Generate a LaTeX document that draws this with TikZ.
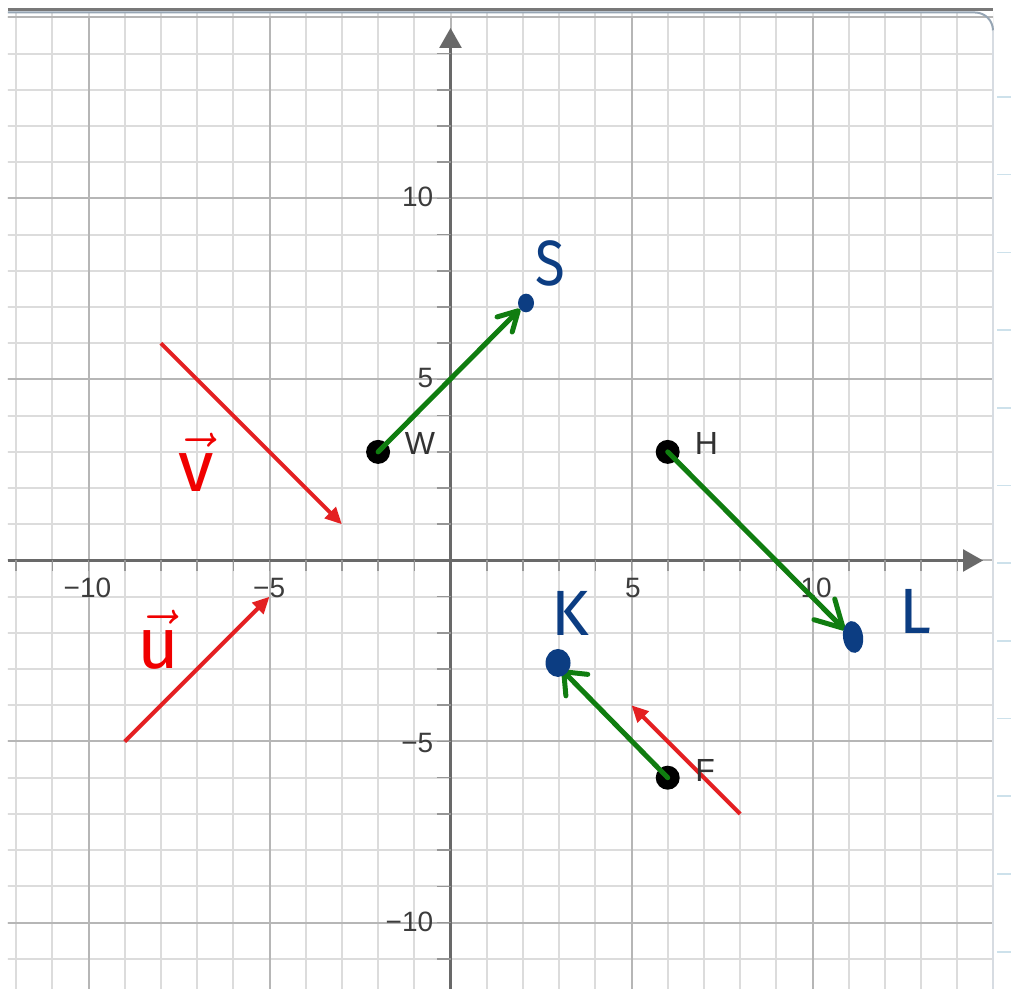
\RequirePackage{fix-cm}
\documentclass[tikz,border=0pt]{standalone}
\usepackage{fontspec}
\setmainfont{Liberation Sans}
\newfontfamily\handfont{Fira Sans}
\usetikzlibrary{arrows.meta,shapes.geometric}
\definecolor{gridminor}{RGB}{220,220,220}
\definecolor{gridmajor}{RGB}{182,182,182}
\definecolor{axisgray}{RGB}{105,105,105}
\definecolor{tickgray}{RGB}{150,150,150}
\definecolor{numgray}{RGB}{60,60,60}
\definecolor{labgray}{RGB}{50,50,50}
\definecolor{vecred}{RGB}{228,32,34}
\definecolor{inkred}{RGB}{240,0,0}
\definecolor{inkgreen}{RGB}{16,125,16}
\definecolor{inkblue}{RGB}{12,61,130}
\definecolor{topdark}{RGB}{120,120,120}
\definecolor{topblue}{RGB}{150,165,180}
\definecolor{edgegray}{RGB}{215,220,226}
\definecolor{faintblue}{RGB}{205,225,235}
\begin{document}
\begin{tikzpicture}[x=27.15pt,y=27.15pt,
  minorgrid/.style={draw=gridminor, line width=1.5pt},
  majorgrid/.style={draw=gridmajor, line width=1.5pt},
  axisline/.style={draw=axisgray, line width=1.9pt, -{Triangle[length=15pt,width=16.5pt]}},
  tickmark/.style={draw=tickgray, line width=1.2pt},
  numlab/.style={font=\fontsize{21}{24}\selectfont, text=numgray, inner sep=0pt},
  blackdot/.style={circle, fill=black, inner sep=0pt, minimum size=18pt},
  ptlab/.style={font=\fontsize{24}{28}\selectfont, text=labgray, inner sep=0pt, anchor=west},
  redvec/.style={draw=vecred, line width=3pt, -{Triangle[length=12.5pt,width=11.5pt]}},
  greenvec/.style={draw=inkgreen, line width=3.75pt, line cap=round},
  bluedot/.style={ellipse, fill=inkblue, inner sep=0pt},
  handlab/.style={font=\handfont\fontsize{48}{52}\selectfont, text=inkblue, inner sep=0pt},
  redlab/.style={text=inkred, inner sep=0pt, font=\handfont\fontsize{54}{58}\selectfont}
]
\useasboundingbox (-12.445,-11.837) rectangle (15.483,15.483);
\fill[white] (-12.445,-11.837) rectangle (15.483,15.483);

% grid
\begin{scope}
  \clip (-12.224,-11.837) rectangle (14.986,15.14);
  \draw[minorgrid] (-13,-12) grid[step=1] (15,16);
  \draw[majorgrid] (-15,-15) grid[step=5] (15,15);
\end{scope}

% frame of the window
\draw[topdark, line width=1.6pt] (-12.224,15.221) -- (14.986,15.221);
\draw[topblue, line width=1.5pt] (-12.224,15.138) -- (14.489,15.138) arc[start angle=90,end angle=0,radius=0.497];
\draw[edgegray, line width=1.2pt] (14.986,14.64) -- (14.986,-11.837);
\foreach \k in {0,...,11}{
  \pgfmathsetmacro\yy{(560.5-97-77.7*\k)/36.2}
  \draw[faintblue, line width=1.2pt] (15.1,\yy) -- (15.483,\yy);
}

% axes
\draw[axisline] (-12.224,0) -- (14.71,0);
\draw[axisline] (0,-11.837) -- (0,14.71);
\foreach \i in {-12,...,-1,1,2,...,14} \draw[tickmark] (\i,0) -- (\i,-0.3);
\foreach \j in {-11,...,-1,1,2,...,14} \draw[tickmark] (-0.38,\j) -- (0,\j);

% axis numbers
\node[numlab] (xm10) at (-10.03,-0.76) {−10};
\node[numlab] (xm5) at (-5.01,-0.76) {−5};
\node[numlab] (xp5) at (5.04,-0.76) {5};
\node[numlab] (xp10) at (10.1,-0.76) {10};
\node[numlab, anchor=east] (yp10) at (-0.47,10.04) {10};
\node[numlab, anchor=east] (yp5) at (-0.47,5.04) {5};
\node[numlab, anchor=east] (ym5) at (-0.47,-5.04) {−5};
\node[numlab, anchor=east] (ym10) at (-0.47,-9.99) {−10};

% red vectors
\coordinate (v1) at (-8,6);
\coordinate (v2) at (-3,1);
\coordinate (u1) at (-9,-5);
\coordinate (u2) at (-5,-1);
\coordinate (w1) at (8,-7);
\coordinate (w2) at (5,-4);
\draw[redvec] (v1) -- (v2);
\draw[redvec] (u1) -- (u2);
\draw[redvec] (w1) -- (w2);

% points
\node[blackdot] (W) at (-2,3) {};
\node[blackdot] (H) at (6,3) {};
\node[blackdot] (F) at (6,-6) {};
\node[ptlab] (Wl) at (-1.27,3.23) {W};
\node[ptlab] (Hl) at (6.74,3.23) {H};
\node[ptlab] (Fl) at (6.76,-5.79) {F};

% green translations
\coordinate (Stip) at (1.92,6.948);
\coordinate (Ltip) at (10.895,-1.92);
\coordinate (Ktip) at (3.08,-3.025);
\draw[greenvec, -{Straight Barb[length=14.5pt,width=16pt,round]}] (W.center) -- (Stip);
\draw[greenvec, -{Straight Barb[length=20pt,width=22pt,round]}] (H.center) -- (Ltip);
\draw[greenvec, -{Straight Barb[length=14pt,width=23pt,round]}] (F.center) -- (Ktip);

% blue image points
\node[bluedot, minimum width=12pt, minimum height=14pt] (S) at (2.086,7.113) {};
\node[bluedot, minimum width=15pt, minimum height=24pt, rotate=8] (L) at (11.12,-2.113) {};
\node[bluedot, minimum width=18.75pt, minimum height=21pt] (K) at (2.97,-2.83) {};
\node[handlab, xscale=0.85] (Sl) at (2.749,8.218) {S};
\node[handlab] (Ll) at (12.83,-1.395) {L};
\node[handlab] (Kl) at (3.30,-1.45) {K};

% handwritten vector names
\node[redlab] (ul) at (-8.08,-2.2) {$\vec{\hbox{\handfont\fontsize{54}{58}\selectfont u}}$};
\node[redlab] (vl) at (-7.03,2.72) {$\vec{\hbox{\handfont\fontsize{54}{58}\selectfont v}}$};
\end{tikzpicture}
\end{document}
